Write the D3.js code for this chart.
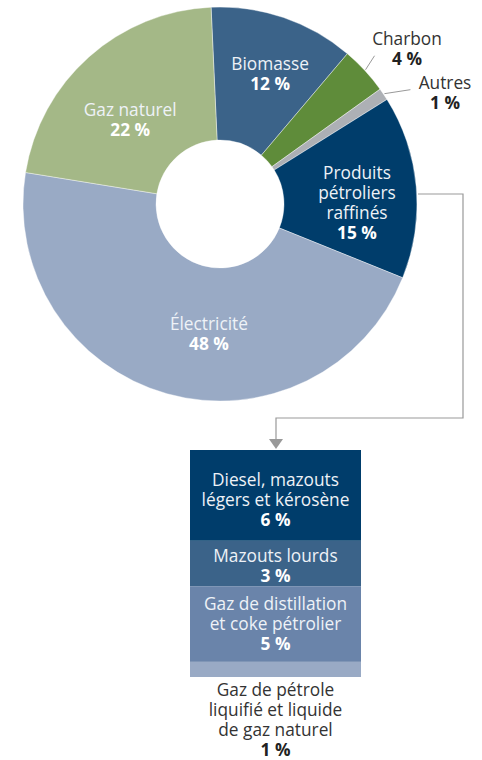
<!DOCTYPE html>
<html>
<head>
<meta charset="utf-8">
<script src="https://cdn.jsdelivr.net/npm/d3@7"></script>
<style>
  body { margin: 0; background: #fff; }
  svg text { font-family: "Open Sans", "Noto Sans", sans-serif; }
</style>
</head>
<body>
<div id="chart"></div>
<script>
// Donut: share of energy use (slice sizes, labels as printed)
var sliceNames = [["Biomasse"], ["Charbon"], ["Autres"], ["Produits", "pétroliers", "raffinés"], ["Électricité"], ["Gaz naturel"]];
var sliceShares = [11.9, 3.9, 1.0, 15.0, 46.4, 21.7];
var sliceLabels = ["12 %", "4 %", "1 %", "15 %", "48 %", "22 %"];
var sliceColors = ["#3b6389", "#5f8c3a", "#adb0b5", "#003d6b", "#99aac5", "#a4b887"];

// Breakdown of refined petroleum products
var barNames = [["Diesel, mazouts", "légers et kérosène"], ["Mazouts lourds"], ["Gaz de distillation", "et coke pétrolier"], ["Gaz de pétrole", "liquifié et liquide", "de gaz naturel"]];
var barValues = [6, 3, 5, 1];
var barLabels = ["6 %", "3 %", "5 %", "1 %"];
var barColors = ["#003d6b", "#3b6389", "#6a84aa", "#99aac5"];

var W = 482, H = 760;
var cx = 220, cy = 204, rOuter = 197, rInner = 64;
var lineH = 20;
var fontSize = 17.3;

var svg = d3.select("#chart").append("svg")
  .attr("width", W)
  .attr("height", H);

var slices = sliceNames.map(function(n, i) {
  return {name: n, share: sliceShares[i], label: sliceLabels[i], color: sliceColors[i]};
});

var pie = d3.pie()
  .sort(null)
  .value(function(d) {return d.share;})
  .startAngle(-2.6 * Math.PI / 180)
  .endAngle(2 * Math.PI - 2.6 * Math.PI / 180);

var arc = d3.arc().innerRadius(rInner).outerRadius(rOuter);

var g = svg.append("g").attr("transform", "translate(" + cx + "," + cy + ")");

var arcs = pie(slices);

g.selectAll("path.slice")
  .data(arcs)
  .enter().append("path")
  .attr("class", "slice")
  .attr("d", arc)
  .attr("fill", function(d) {return d.data.color;})
  .attr("stroke", "#fff")
  .attr("stroke-width", 0.4);

// label placement: inside slices use centroid + small nudge, small slices go outside
var nudge = [[8, -7], null, null, [7, 10], [24, 4], [-3, 13]];
var outside = [null, [187, -155], [225, -111]];

function drawLabel(sel, lines, value, x, y, fill, nameFill) {
  var t = sel.append("text")
    .attr("text-anchor", "middle")
    .attr("font-size", fontSize);
  var n = lines.length + 1;
  var y0 = y - (n - 1) * lineH / 2;
  lines.forEach(function(l, i) {
    t.append("tspan")
      .attr("x", x)
      .attr("y", y0 + i * lineH)
      .attr("dy", "0.35em")
      .attr("fill", nameFill)
      .text(l);
  });
  t.append("tspan")
    .attr("x", x)
    .attr("y", y0 + lines.length * lineH)
    .attr("dy", "0.35em")
    .attr("font-weight", "bold")
    .attr("fill", fill)
    .text(value);
}

arcs.forEach(function(d, i) {
  if (nudge[i]) {
    var c = arc.centroid(d);
    drawLabel(g, d.data.name, d.data.label, c[0] + nudge[i][0], c[1] + nudge[i][1], "#fff", "#eef2f7");
  } else {
    var p = outside[i];
    drawLabel(g, d.data.name, d.data.label, p[0], p[1], "#222", "#333");
    // leader line from slice edge
    var a = (d.startAngle + d.endAngle) / 2;
    var ex = Math.sin(a) * (rOuter + 1), ey = -Math.cos(a) * (rOuter + 1);
    var lx = i == 1 ? ex + 9 : ex + 26, ly = i == 1 ? ey - 14 : ey - 4;
    g.append("line")
      .attr("x1", ex).attr("y1", ey)
      .attr("x2", lx).attr("y2", ly)
      .attr("stroke", "#999")
      .attr("stroke-width", 1);
  }
});

// Stacked bar for refined petroleum products
var barX = 190, barW = 171, barTop = 450;
var y = d3.scaleLinear()
  .domain([0, d3.sum(barValues)])
  .range([barTop, barTop + 227]);

var cum = 0;
var bars = barValues.map(function(v, i) {
  var b = {y0: cum, y1: cum + v, name: barNames[i], label: barLabels[i], color: barColors[i]};
  cum += v;
  return b;
});

svg.selectAll("rect.bar")
  .data(bars)
  .enter().append("rect")
  .attr("class", "bar")
  .attr("x", barX)
  .attr("width", barW)
  .attr("y", function(d) {return y(d.y0);})
  .attr("height", function(d) {return y(d.y1) - y(d.y0);})
  .attr("fill", function(d) {return d.color;});

var barShift = [5, 2, 0];
bars.forEach(function(d, i) {
  var mid = (y(d.y0) + y(d.y1)) / 2;
  if (i < bars.length - 1) {
    drawLabel(svg, d.name, d.label, barX + barW / 2, mid + barShift[i], "#fff", "#eef2f7");
  } else {
    var n = d.name.length + 1;
    drawLabel(svg, d.name, d.label, barX + barW / 2, y(d.y1) + 13 + (n - 1) * lineH / 2, "#222", "#333");
  }
});

// Connector from the refined products slice to the bar
var conn = [[cx + rOuter + 1, 194], [463, 194], [463, 418], [276, 418], [276, 441]];
svg.append("path")
  .attr("d", d3.line()(conn))
  .attr("fill", "none")
  .attr("stroke", "#999")
  .attr("stroke-width", 1.2);
svg.append("path")
  .attr("d", "M269,439L283,439L276,449Z")
  .attr("fill", "#999");
</script>
</body>
</html>
